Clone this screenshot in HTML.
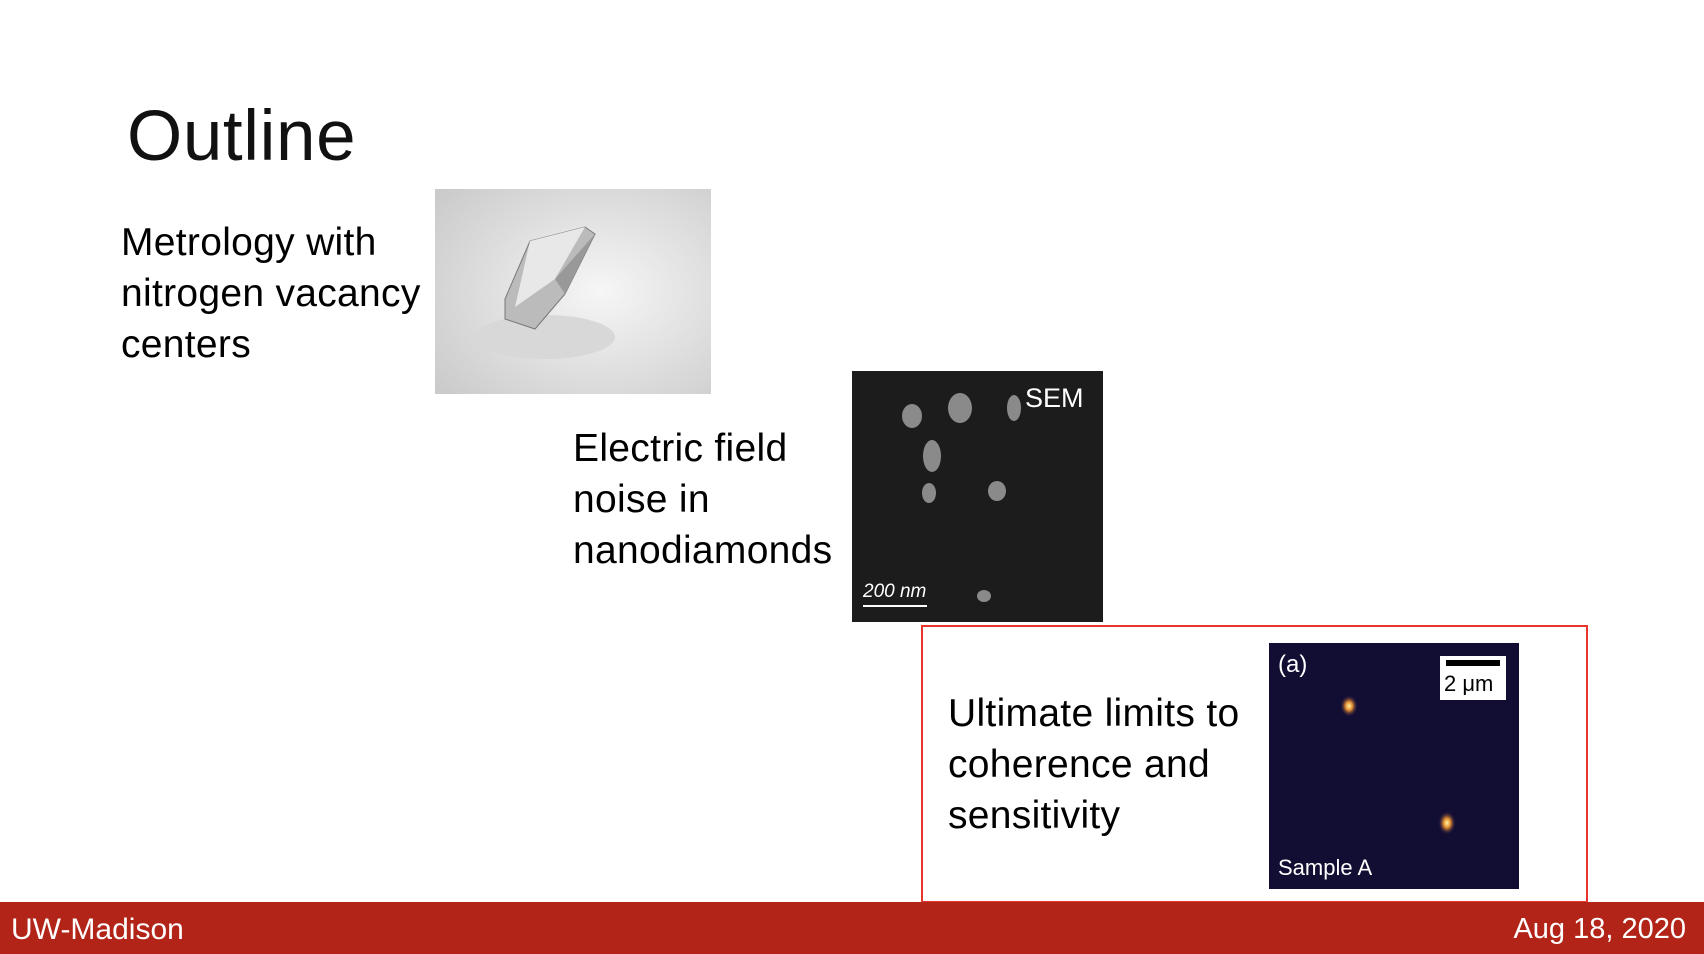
<!DOCTYPE html>
<html><head><meta charset="utf-8"><style>
body{margin:0;width:1704px;height:954px;background:#fff;position:relative;overflow:hidden;font-family:"Liberation Sans",sans-serif}
.a{position:absolute}
.t{position:absolute;font-size:39px;line-height:51px;color:#000;white-space:nowrap;letter-spacing:0.3px}
</style></head><body>
<div class="a" style="left:127px;top:96px;font-size:71px;color:#111;letter-spacing:0.6px">Outline</div>

<div class="t" style="left:121px;top:217px">Metrology with<br>nitrogen vacancy<br>centers</div>

<svg class="a" style="left:435px;top:189px" width="276" height="205">
<defs><radialGradient id="g1" cx="0.6" cy="0.5" r="0.8"><stop offset="0" stop-color="#f6f6f6"/><stop offset="1" stop-color="#c8c8c8"/></radialGradient></defs>
<rect width="276" height="205" fill="url(#g1)"/>
<ellipse cx="110" cy="148" rx="70" ry="22" fill="#d8d8d8"/>
<polygon points="70,110 95,52 150,38 160,45 130,105 100,140 70,130" fill="#bbb" stroke="#777"/>
<polygon points="95,52 150,38 120,90 80,118" fill="#e8e8e8"/>
<polygon points="120,90 160,45 130,105" fill="#999"/>
</svg>

<div class="t" style="left:573px;top:423px">Electric field<br>noise in<br>nanodiamonds</div>

<svg class="a" style="left:852px;top:371px" width="251" height="251">
<rect width="251" height="251" fill="#1c1c1c"/>
<g fill="#8a8a8a">
<ellipse cx="60" cy="45" rx="10" ry="12"/><ellipse cx="108" cy="37" rx="12" ry="15"/><ellipse cx="162" cy="37" rx="7" ry="13"/>
<ellipse cx="80" cy="85" rx="9" ry="16"/><ellipse cx="77" cy="122" rx="7" ry="10"/><ellipse cx="145" cy="120" rx="9" ry="10"/><ellipse cx="132" cy="225" rx="7" ry="6"/>
</g>
<text x="173" y="36" fill="#fff" font-size="27" font-family="Liberation Sans">SEM</text>
<text x="11" y="226" fill="#fff" font-size="19" font-style="italic" font-family="Liberation Sans">200 nm</text>
<rect x="11" y="234" width="64" height="2" fill="#fff"/>
</svg>

<div class="a" style="left:921px;top:625px;width:663px;height:274px;border:2px solid #e8352b"></div>

<div class="t" style="left:948px;top:688px">Ultimate limits to<br>coherence and<br>sensitivity</div>

<svg class="a" style="left:1269px;top:643px" width="250" height="246">
<defs><radialGradient id="sp"><stop offset="0" stop-color="#fff6a0"/><stop offset="0.4" stop-color="#e08a30"/><stop offset="1" stop-color="#1a1040" stop-opacity="0"/></radialGradient></defs>
<rect width="250" height="246" fill="#120d33"/>
<ellipse cx="80" cy="63" rx="9" ry="11" fill="url(#sp)"/>
<ellipse cx="178" cy="180" rx="9" ry="12" fill="url(#sp)"/>
<text x="9" y="29" fill="#fff" font-size="24" font-family="Liberation Sans">(a)</text>
<rect x="171" y="13" width="66" height="44" fill="#fff"/>
<rect x="177" y="17" width="54" height="6" fill="#000"/>
<text x="175" y="48" fill="#000" font-size="22" font-family="Liberation Sans">2 μm</text>
<text x="9" y="232" fill="#fff" font-size="22" font-family="Liberation Sans">Sample A</text>
</svg>

<div class="a" style="left:0;top:902px;width:1704px;height:52px;background:#b22418"></div>
<div class="a" style="left:11px;top:913px;color:#fff;font-size:30px;letter-spacing:0px">UW-Madison</div>
<div class="a" style="right:18px;top:913px;color:#fff;font-size:29px;letter-spacing:0px">Aug 18, 2020</div>
</body></html>
